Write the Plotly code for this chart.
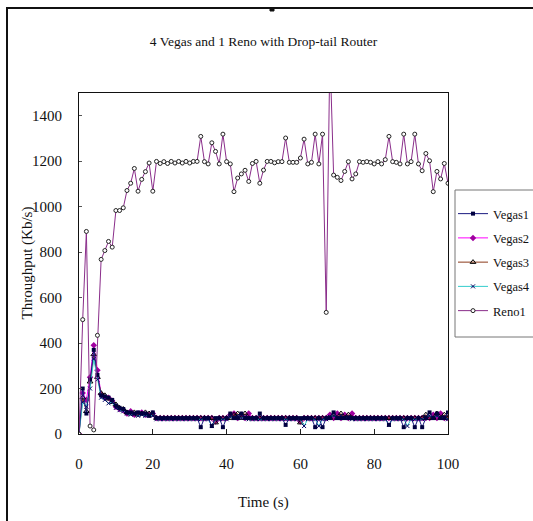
import plotly.graph_objects as go

time_s = list(range(0, 101))

vegas1 = [
    0, 200, 90, 240, 370, 260, 170, 165, 160, 150,
    125, 115, 110, 95, 95, 90, 95, 90, 90, 80,
    95, 70, 70, 70, 70, 70, 70, 70, 70, 70,
    70, 70, 70, 30, 70, 70, 35, 70, 70, 30,
    70, 90, 70, 70, 90, 70, 70, 70, 70, 90,
    70, 70, 70, 70, 70, 70, 40, 70, 70, 70,
    70, 70, 70, 70, 30, 70, 30, 70, 70, 95,
    70, 70, 70, 70, 70, 70, 70, 70, 70, 70,
    70, 70, 70, 70, 40, 70, 70, 70, 30, 70,
    70, 30, 70, 30, 70, 95, 70, 90, 70, 70,
    95]

vegas2 = [
    0, 180, 150, 250, 390, 280, 175, 160, 160, 145,
    120, 110, 105, 90, 100, 85, 90, 95, 85, 85,
    90, 70, 70, 70, 70, 70, 70, 70, 70, 70,
    70, 70, 70, 70, 70, 70, 70, 55, 70, 70,
    70, 85, 90, 70, 85, 70, 90, 70, 70, 70,
    70, 70, 70, 70, 70, 70, 70, 70, 70, 70,
    55, 70, 70, 70, 70, 70, 70, 70, 85, 70,
    90, 70, 85, 70, 90, 70, 70, 70, 70, 70,
    70, 70, 70, 70, 70, 70, 70, 70, 70, 70,
    70, 70, 70, 70, 70, 70, 85, 70, 90, 70,
    70]

vegas3 = [
    0, 160, 100, 230, 350, 250, 180, 170, 155, 140,
    130, 115, 110, 95, 90, 95, 85, 90, 95, 90,
    85, 70, 70, 70, 70, 70, 70, 70, 70, 70,
    70, 70, 70, 70, 70, 70, 70, 50, 70, 70,
    70, 70, 85, 90, 70, 90, 70, 70, 70, 70,
    70, 70, 70, 70, 70, 70, 70, 70, 70, 70,
    50, 70, 70, 70, 70, 70, 70, 70, 70, 85,
    70, 90, 70, 85, 70, 70, 70, 70, 70, 70,
    70, 70, 70, 70, 70, 70, 70, 70, 70, 70,
    70, 70, 70, 70, 85, 70, 70, 90, 70, 85,
    70]

vegas4 = [
    0, 140, 120, 200, 330, 240, 160, 150, 135, 140,
    115, 105, 100, 90, 85, 90, 80, 85, 80, 85,
    80, 65, 65, 65, 65, 65, 65, 65, 65, 65,
    65, 65, 65, 65, 65, 65, 35, 65, 65, 65,
    65, 75, 70, 80, 70, 75, 65, 65, 65, 65,
    65, 65, 65, 65, 65, 65, 65, 65, 65, 65,
    65, 35, 65, 65, 65, 35, 65, 65, 75, 80,
    70, 80, 70, 75, 65, 65, 65, 65, 65, 65,
    65, 65, 65, 65, 40, 65, 65, 65, 65, 35,
    65, 65, 65, 65, 75, 80, 70, 80, 70, 75,
    65]

reno1 = [
    0, 503, 891, 35, 18, 434, 768, 807, 847, 822,
    983, 983, 995, 1071, 1103, 1168, 1068, 1120, 1154, 1192,
    1068, 1199, 1190, 1198, 1190, 1199, 1192, 1199, 1192, 1199,
    1192, 1199, 1199, 1309, 1198, 1188, 1281, 1243, 1188, 1319,
    1198, 1188, 1066, 1126, 1144, 1160, 1111, 1190, 1199, 1103,
    1161, 1199, 1199, 1193, 1198, 1198, 1302, 1195, 1195, 1195,
    1214, 1297, 1188, 1195, 1319, 1188, 1319, 535, 1680, 1139,
    1129, 1115, 1155, 1198, 1122, 1144, 1198, 1195, 1198, 1195,
    1188, 1198, 1188, 1207, 1309, 1198, 1195, 1188, 1319, 1188,
    1198, 1319, 1188, 1158, 1234, 1202, 1066, 1155, 1122, 1190,
    1103]

series_names = ["Vegas1", "Vegas2", "Vegas3", "Vegas4", "Reno1"]
y_tick_vals = [0, 200, 400, 600, 800, 1000, 1200, 1400]
x_tick_vals = [0, 20, 40, 60, 80, 100]

styles = [
    dict(line=dict(color="#1a1a80", width=1),
         marker=dict(symbol="square", size=4, color="#000040")),
    dict(line=dict(color="#ff00ff", width=1),
         marker=dict(symbol="diamond", size=5, color="#a000a0")),
    dict(line=dict(color="#8b3a1a", width=1),
         marker=dict(symbol="triangle-up-open", size=5, color="#000000",
                     line=dict(width=1))),
    dict(line=dict(color="#33cccc", width=1),
         marker=dict(symbol="x-thin-open", size=4, color="#000060",
                     line=dict(width=1, color="#000060"))),
    dict(line=dict(color="#8a2d8a", width=1),
         marker=dict(symbol="circle", size=4, color="white",
                     line=dict(width=1, color="#222222"))),
]

W, H = 533, 521
L, R, T, B = 79, 448, 93, 434
pw, ph = R - L, B - T


def px(x):
    return (x - L) / pw


def py(y):
    return (B - y) / ph


FONT = "Liberation Serif, Times New Roman, serif"

all_vals = [vegas1, vegas2, vegas3, vegas4, reno1]
draw_order = [1, 2, 3, 0, 4]  # squares drawn above the other Vegas flows

fig = go.Figure()
for i in draw_order:
    name, vals, st = series_names[i], all_vals[i], styles[i]
    fig.add_trace(go.Scatter(
        x=time_s, y=vals, name=name, mode="lines+markers",
        line=st["line"], marker=st["marker"], legendgroup=name,
        legendrank=i + 1,
    ))

fig.update_layout(
    width=W, height=H,
    margin=dict(l=L, r=W - R, t=T, b=H - B, autoexpand=False),
    paper_bgcolor="white", plot_bgcolor="white",
    font=dict(family=FONT, size=14, color="#111111"),
    title=dict(text="4 Vegas and 1 Reno with Drop-tail Router",
               x=0.5, xref="paper", xanchor="center",
               y=1 - 41 / H, yref="container", yanchor="middle",
               font=dict(family=FONT, size=13.5, color="#111111")),
    showlegend=True,
    legend=dict(x=px(453), y=py(199), xanchor="left", yanchor="top",
                bgcolor="rgba(0,0,0,0)", borderwidth=0,
                font=dict(family=FONT, size=12.5, color="#111111"),
                tracegroupgap=5, itemwidth=30),
    xaxis=dict(range=[0, 100], tickvals=x_tick_vals, ticks="inside", ticklen=5,
               tickcolor="#222222", showline=True, linecolor="#111111", linewidth=1,
               mirror=True, showgrid=False, zeroline=False,
               ticklabelstandoff=16, tickfont=dict(size=15)),
    yaxis=dict(range=[0, 1500], tickvals=y_tick_vals, ticks="inside", ticklen=3,
               tickcolor="#555555", showline=True, linecolor="#111111", linewidth=1,
               mirror=True, showgrid=False, zeroline=False,
               ticklabelstandoff=13, tickfont=dict(size=15)),
    annotations=[
        dict(text="Throughput (Kb/s)", x=px(27), y=0.5, xref="paper", yref="paper",
             textangle=-90, showarrow=False, xanchor="center", yanchor="middle",
             font=dict(family=FONT, size=15)),
        dict(text="Time (s)", x=0.5, y=py(502), xref="paper", yref="paper",
             showarrow=False, xanchor="center", yanchor="middle",
             font=dict(family=FONT, size=15)),
    ],
    shapes=[
        dict(type="rect", xref="paper", yref="paper",
             x0=px(7), y0=py(560), x1=px(560), y1=py(8),
             line=dict(color="#111111", width=2), fillcolor="rgba(0,0,0,0)", layer="below"),
        dict(type="rect", xref="paper", yref="paper",
             x0=px(455), y0=py(337), x1=px(560), y1=py(190),
             line=dict(color="#777777", width=1), fillcolor="rgba(0,0,0,0)"),
        dict(type="rect", xref="paper", yref="paper",
             x0=px(270), y0=py(11), x1=px(274), y1=py(8),
             line=dict(color="#111111", width=1), fillcolor="#111111"),
    ],
)

fig.write_html("out.html", config={"displayModeBar": False},
               post_script="document.body.style.margin='0px';document.body.style.padding='0px';")
